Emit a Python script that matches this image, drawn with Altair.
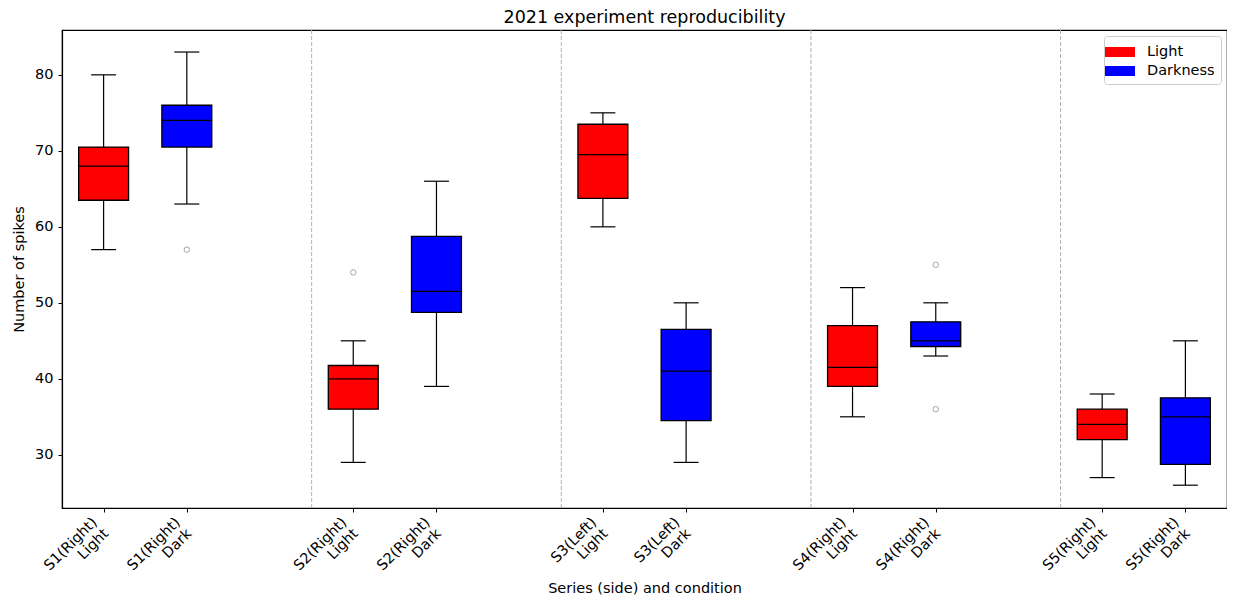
import json
import altair as alt
import pandas as pd

# ---- data ----
positions = [1, 2, 4, 5, 7, 8, 10, 11, 13, 14]
tick_labels = ["S1(Right)\nLight", "S1(Right)\nDark",
               "S2(Right)\nLight", "S2(Right)\nDark",
               "S3(Left)\nLight", "S3(Left)\nDark",
               "S4(Right)\nLight", "S4(Right)\nDark",
               "S5(Right)\nLight", "S5(Right)\nDark"]
conditions = ["Light", "Darkness"] * 5
whisker_low = [57, 63, 29, 39, 60, 29, 35, 43, 27, 26]
q1 = [63.5, 70.5, 36, 48.75, 63.75, 34.5, 39, 44.25, 32, 28.75]
median = [68, 74, 40, 51.5, 69.5, 41, 41.5, 45, 34, 35]
q3 = [70.5, 76, 41.75, 58.75, 73.5, 46.5, 47, 47.5, 36, 37.5]
whisker_high = [80, 83, 45, 66, 75, 50, 52, 50, 38, 45]
outlier_pos = [2, 4, 11, 11]
outlier_val = [57, 54, 55, 36]
separators = [3.5, 6.5, 9.5, 12.5]
y_ticks = [30, 40, 50, 60, 70, 80]

box_half = 0.3
cap_half = 0.15

df = pd.DataFrame({
    "pos": positions, "cond": conditions,
    "wlo": whisker_low, "q1": q1, "med": median, "q3": q3, "whi": whisker_high,
})
df["xl"] = df["pos"] - box_half
df["xr"] = df["pos"] + box_half
df["cl"] = df["pos"] - cap_half
df["cr"] = df["pos"] + cap_half

out_df = pd.DataFrame({"pos": outlier_pos, "val": outlier_val})
sep_df = pd.DataFrame({"x": separators})

lab_arr = [[""] for _ in range(16)]
for p, l in zip(positions, tick_labels):
    lab_arr[p] = l.split("\n")
label_expr = json.dumps(lab_arr) + "[datum.value]"

FS = 14.5
FONT = "DejaVu Sans"

xscale = alt.Scale(domain=[0.5, 14.5], nice=False, zero=False)
yscale = alt.Scale(domain=[23.0, 85.9], nice=False, zero=False)

xaxis = alt.Axis(values=positions, labelExpr=label_expr, labelAngle=-45,
                 labelAlign="right", labelBaseline="top", title="Series (side) and condition",
                 titleY=80, titleBaseline="middle", labelOffset=-14, labelPadding=3,
                 labelLineHeight=16, grid=False)
yaxis = alt.Axis(values=y_ticks, title="Number of spikes", grid=False,
                 titlePadding=8, labelPadding=5)

base = alt.Chart(df)

sep = alt.Chart(sep_df).mark_rule(color="#b0b0b0", strokeDash=[4, 2], strokeWidth=1).encode(
    x=alt.X("x:Q", scale=xscale, axis=xaxis),
)

whisk_hi = base.mark_rule(color="black", strokeWidth=1.2).encode(
    x=alt.X("pos:Q", scale=xscale, axis=xaxis),
    y=alt.Y("q3:Q", scale=yscale, axis=yaxis), y2="whi:Q")
whisk_lo = base.mark_rule(color="black", strokeWidth=1.2).encode(
    x=alt.X("pos:Q", scale=xscale), y=alt.Y("wlo:Q", scale=yscale), y2="q1:Q")
cap_hi = base.mark_rule(color="black", strokeWidth=1.2).encode(
    x=alt.X("cl:Q", scale=xscale), x2="cr:Q", y=alt.Y("whi:Q", scale=yscale))
cap_lo = base.mark_rule(color="black", strokeWidth=1.2).encode(
    x=alt.X("cl:Q", scale=xscale), x2="cr:Q", y=alt.Y("wlo:Q", scale=yscale))

boxes = base.mark_rect(stroke="black", strokeWidth=1.3).encode(
    x=alt.X("xl:Q", scale=xscale), x2="xr:Q",
    y=alt.Y("q1:Q", scale=yscale), y2="q3:Q",
    fill=alt.Fill("cond:N",
                  scale=alt.Scale(domain=["Light", "Darkness"], range=["#ff0000", "#0000ff"]),
                  legend=alt.Legend(title=None, orient="top-right", offset=6,
                                    symbolType="M-1.5,-0.5H1.5V0.5H-1.5Z", symbolSize=400,
                                    symbolStrokeWidth=0, labelOffset=17, rowPadding=2,
                                    padding=6, strokeColor="#cccccc", cornerRadius=3,
                                    fillColor="white", labelFontSize=FS,
                                    labelFont=FONT, labelColor="black")))

med = base.mark_rule(color="black", strokeWidth=1.3).encode(
    x=alt.X("xl:Q", scale=xscale), x2="xr:Q", y=alt.Y("med:Q", scale=yscale))

outl = alt.Chart(out_df).mark_point(shape="circle", filled=False, color="#808080",
                                    size=30, strokeWidth=1).encode(
    x=alt.X("pos:Q", scale=xscale), y=alt.Y("val:Q", scale=yscale))

chart = alt.layer(sep, whisk_hi, whisk_lo, cap_hi, cap_lo, boxes, med, outl).properties(
    width=1165, height=478,
    title=alt.TitleParams("2021 experiment reproducibility", fontSize=17.5, fontWeight="normal",
                          font=FONT, color="black", offset=3),
    autosize=alt.AutoSizeParams(type="none"),
    padding={"left": 54, "top": 22, "right": 0, "bottom": 87},
).configure_view(stroke="black", strokeWidth=1.2).configure_axis(
    labelFont=FONT, titleFont=FONT, labelFontSize=FS, titleFontSize=FS,
    titleFontWeight="normal", labelColor="black", titleColor="black",
    domainColor="black", tickColor="black", tickSize=4, domainWidth=1.2,
)

chart.save("out.html", embed_options={"renderer": "svg", "actions": False})
